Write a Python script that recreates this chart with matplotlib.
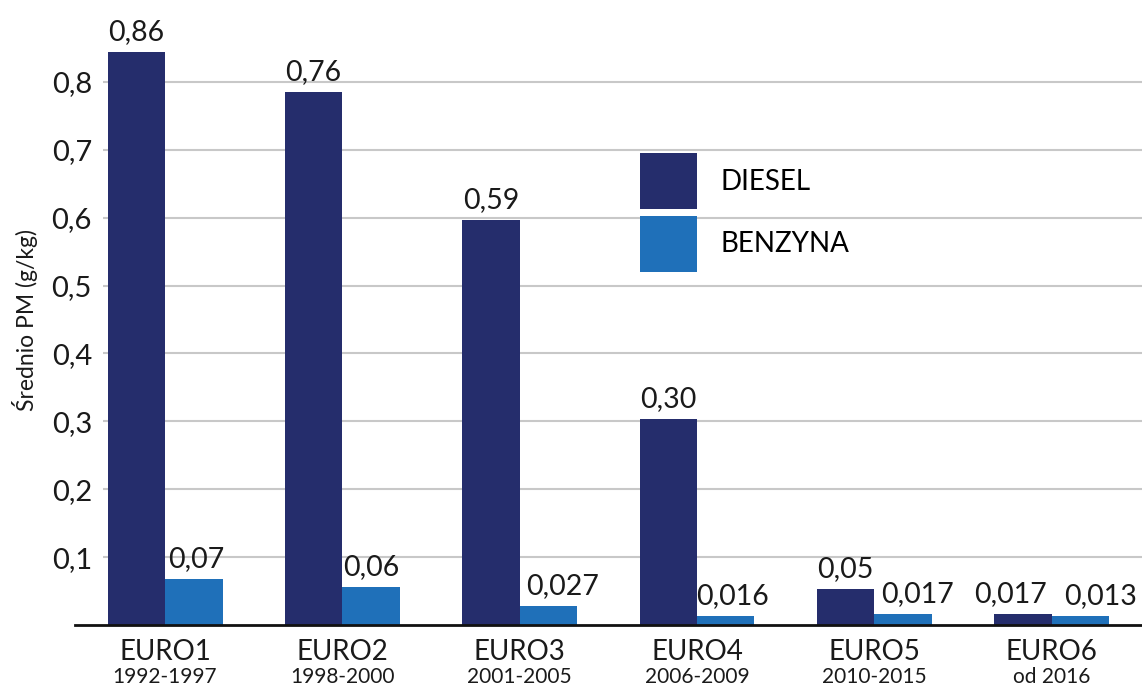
import matplotlib.pyplot as plt
import numpy as np
from matplotlib.lines import Line2D

plt.rcParams['font.family'] = ['Lato', 'DejaVu Sans']

# dane
normy = ['EURO1', 'EURO2', 'EURO3', 'EURO4', 'EURO5', 'EURO6']
lata = ['1992-1997', '1998-2000', '2001-2005', '2006-2009', '2010-2015', 'od 2016']
diesel = [0.844, 0.785, 0.596, 0.303, 0.053, 0.016]
benzyna = [0.068, 0.056, 0.028, 0.013, 0.016, 0.013]
diesel_txt = ['0,86', '0,76', '0,59', '0,30', '0,05', '0,017']
benzyna_txt = ['0,07', '0,06', '0,027', '0,016', '0,017', '0,013']

kol_d = '#252d6c'
kol_b = '#1f70b9'
kol_txt = '#1a1a1a'

fig = plt.figure(figsize=(11.42, 6.87), dpi=100)
ax = fig.add_axes([103/1142, 62/687, 1 - 103/1142, 1 - 62/687 - 14/687])

x = np.arange(len(normy))
w = 0.324
b1 = ax.bar(x - w/2, diesel, w, color=kol_d, label='DIESEL')
b2 = ax.bar(x + w/2, benzyna, w, color=kol_b, label='BENZYNA')

# przesuniecia etykiet w poziomie (px), zeby sie nie nachodzily
dx_d = [0, 0, 0, 0, 0, -12]
dx_b = [2, 0, 14, 7, 15, 20]
for i in range(len(normy)):
    ax.annotate(diesel_txt[i], (x[i] - w/2, diesel[i]), xytext=(dx_d[i] * 0.72, 5),
                textcoords='offset points', ha='center', va='bottom', fontsize=20.5, color=kol_txt)
    ax.annotate(benzyna_txt[i], (x[i] + w/2, benzyna[i]), xytext=(dx_b[i] * 0.72, 5),
                textcoords='offset points', ha='center', va='bottom', fontsize=20.5, color=kol_txt)

ax.set_xlim(-0.35, 5.51)
ax.set_ylim(0, 0.9)
ax.set_yticks([0.1, 0.2, 0.3, 0.4, 0.5, 0.6, 0.7, 0.8])
ax.set_yticklabels(['0,1', '0,2', '0,3', '0,4', '0,5', '0,6', '0,7', '0,8'], fontsize=21, color=kol_txt)
ax.tick_params(axis='y', length=0, pad=8)
ax.set_xticks(x)
ax.set_xticklabels([])
ax.tick_params(axis='x', length=0)
ax.grid(axis='y', color='#c8c8c8', linewidth=1.5)
ax.set_axisbelow(True)
for s in ax.spines.values():
    s.set_visible(False)

# dolna os wychodzi w lewo poza obszar wykresu
fig.add_artist(Line2D([75/1142, 1], [62/687, 62/687], color='#111111', linewidth=2))

tr = ax.get_xaxis_transform()
for i in range(len(normy)):
    ax.text(x[i], -0.057, normy[i], transform=tr, ha='center', va='baseline', fontsize=20, color=kol_txt)
    ax.text(x[i], -0.095, lata[i], transform=tr, ha='center', va='baseline', fontsize=15, color=kol_txt)

ax.set_ylabel('Średnio PM (g/kg)', fontsize=16.5, color=kol_txt, labelpad=10)

ax.legend(loc='upper left', bbox_to_anchor=(0.517, 0.7725), frameon=False, fontsize=20,
          borderpad=0, borderaxespad=0, handlelength=2.05, handleheight=2.75,
          labelspacing=0.22, handletextpad=0.83)

fig.savefig('out.png', dpi=100)
